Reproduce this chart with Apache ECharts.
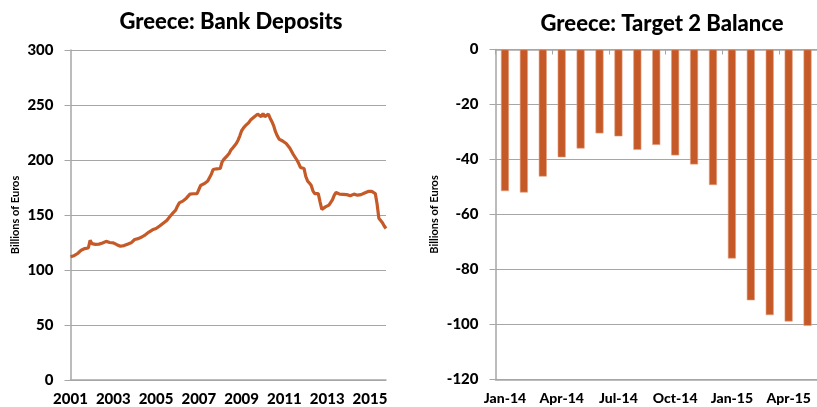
<!DOCTYPE html>
<html>
<head>
<meta charset="utf-8">
<script src="https://cdn.jsdelivr.net/npm/echarts@6/dist/echarts.min.js"></script>
<style>html,body{margin:0;padding:0;background:#fff}#c{width:817px;height:407px}</style>
</head>
<body>
<div id="c"></div>
<script>
// ---- Left chart: Greece bank deposits (billions of euros), monthly from Jan 2001
const depositYearLabels = ['2001','2003','2005','2007','2009','2011','2013','2015'];
const deposits = [
  // 2001
  112, 112.5, 113, 114, 115, 116.5, 118, 119, 119.5, 120, 120, 127,
  // 2002
  124, 123.5, 123.3, 123.3, 123.5, 124, 124.5, 125.5, 126, 125.5, 125, 125,
  // 2003
  124.7, 124, 123, 122, 121.6, 121.8, 122.2, 122.5, 123.5, 124.7, 124.7, 124.4,
  // 2004
  127.7, 128, 128.5, 129, 130, 131, 132, 133.8, 134.5, 135.5, 136.5, 137,
  // 2005
  137.7, 138.5, 140, 141.3, 142.5, 143.8, 145, 147, 149, 151, 152.5, 154.4,
  // 2006
  158, 161, 161.5, 162.6, 163.5, 165.3, 166, 169, 169.2, 169.3, 169.5, 169.5,
  // 2007
  170, 176.8, 177.5, 178.5, 179.3, 181, 182.3, 187, 191.4, 191.8, 192, 192.3,
  // 2008
  192.3, 198, 200.5, 202.3, 204, 206, 209, 211, 213, 215, 218, 222,
  // 2009
  226.6, 229, 231, 232.6, 234, 236.3, 237.5, 239, 240.5, 241.7, 240, 239.3,
  // 2010
  242.3, 239.3, 240.5, 241.7, 238, 234.8, 231, 225.7, 222, 219, 217.5, 217.3,
  // 2011
  217, 215, 213, 211, 208, 205, 202.5, 200, 197, 193.2, 192.5, 192.3,
  // 2012
  185, 181, 179, 177, 172, 169.5, 169.5, 169.5, 162, 155, 156, 157.4,
  // 2013
  158, 159, 159.5, 164, 168, 170.5, 169.5, 169, 169, 168.8, 168.6, 168.5,
  // 2014
  168, 167.5, 167, 169, 169.5, 168, 168, 168.5, 169.5, 170, 171, 171.4,
  // 2015
  171.4, 171.4, 170.5, 169.5, 160, 147, 145, 143, 140, 137.7
];
const depositMonths = [];
for (let y = 2001; depositMonths.length < deposits.length; y++) {
  for (let m = 1; m <= 12 && depositMonths.length < deposits.length; m++) {
    depositMonths.push(y + '-' + (m < 10 ? '0' + m : m));
  }
}

// ---- Right chart: Greece Target 2 balance (billions of euros)
const t2Months = ['Jan-14','Feb-14','Mar-14','Apr-14','May-14','Jun-14','Jul-14','Aug-14','Sep-14',
                  'Oct-14','Nov-14','Dec-14','Jan-15','Feb-15','Mar-15','Apr-15','May-15'];
const t2Balance = [-51.5, -52, -46.2, -39.2, -36, -30.5, -31.6, -36.5, -34.7,
                   -38.5, -41.8, -49.3, -76, -91.2, -96.6, -98.9, -100.5];

const ORANGE = '#C55A28';
const GRID = '#A6A6A6';
const FONT = 'Lato';
const W = 900;
const lblStyle = {fontFamily: FONT, fontWeight: W, fontSize: 15, color: '#000'};

const chart = echarts.init(document.getElementById('c'), null, {renderer: 'canvas'});
chart.setOption({
  animation: false,
  backgroundColor: '#fff',
  title: [
    {text: 'Greece: Bank Deposits', left: 226, top: 6, textAlign: 'center',
     textStyle: {fontFamily: FONT, fontWeight: W, fontSize: 22, color: '#000'}},
    {text: 'Greece: Target 2 Balance', left: 657, top: 8, textAlign: 'center',
     textStyle: {fontFamily: FONT, fontWeight: W, fontSize: 22, color: '#000'}}
  ],
  grid: [
    {left: 70.5, top: 50, width: 315.5, height: 330, containLabel: false},
    {left: 495.5, top: 49.5, width: 333, height: 330, containLabel: false}
  ],
  xAxis: [
    {gridIndex: 0, type: 'category', data: depositMonths, boundaryGap: false, position: 'bottom',
     axisLine: {onZero: false, lineStyle: {color: GRID, width: 1.5}},
     axisTick: {show: false},
     axisLabel: Object.assign({interval: 23, margin: 12, formatter: v => v.slice(0, 4)}, lblStyle),
     splitLine: {show: false}},
    {gridIndex: 1, type: 'category', data: t2Months, position: 'bottom',
     axisLine: {onZero: false, lineStyle: {color: GRID, width: 1.5}},
     axisTick: {show: false},
     axisLabel: Object.assign({interval: 2, margin: 12}, lblStyle, {fontSize: 14}),
     splitLine: {show: false}},
    {gridIndex: 1, type: 'category', data: t2Months, position: 'top',
     axisLine: {onZero: false, lineStyle: {color: GRID, width: 1.5}},
     axisTick: {show: true, interval: 2, inside: true, length: 5, lineStyle: {color: GRID}},
     axisLabel: {show: false},
     splitLine: {show: false}}
  ],
  yAxis: [
    {gridIndex: 0, type: 'value', min: 0, max: 300, interval: 50,
     name: 'Billions of Euros', nameLocation: 'middle', nameGap: 50, nameRotate: 90,
     nameTextStyle: {fontFamily: FONT, fontWeight: 'bold', fontSize: 11, color: '#000'},
     axisLine: {show: true, onZero: false, lineStyle: {color: GRID, width: 1.5}},
     axisTick: {show: true, length: 6, lineStyle: {color: GRID}},
     axisLabel: Object.assign({margin: 17}, lblStyle),
     splitLine: {show: true, lineStyle: {color: GRID, width: 1}}},
    {gridIndex: 1, type: 'value', min: -120, max: 0, interval: 20,
     name: 'Billions of Euros', nameLocation: 'middle', nameGap: 56, nameRotate: 90,
     nameTextStyle: {fontFamily: FONT, fontWeight: 'bold', fontSize: 11, color: '#000'},
     axisLine: {show: true, onZero: false, lineStyle: {color: GRID, width: 1.5}},
     axisTick: {show: true, length: 6, lineStyle: {color: GRID}},
     axisLabel: Object.assign({margin: 17}, lblStyle),
     splitLine: {show: true, lineStyle: {color: GRID, width: 1}}}
  ],
  series: [
    {type: 'line', xAxisIndex: 0, yAxisIndex: 0, data: deposits, showSymbol: false,
     lineStyle: {color: ORANGE, width: 3.2}, itemStyle: {color: ORANGE}},
    {type: 'bar', xAxisIndex: 1, yAxisIndex: 1, data: t2Balance, barWidth: 8,
     itemStyle: {color: ORANGE, borderColor: '#E3A080', borderWidth: 0.6}}
  ]
});
</script>
</body>
</html>
